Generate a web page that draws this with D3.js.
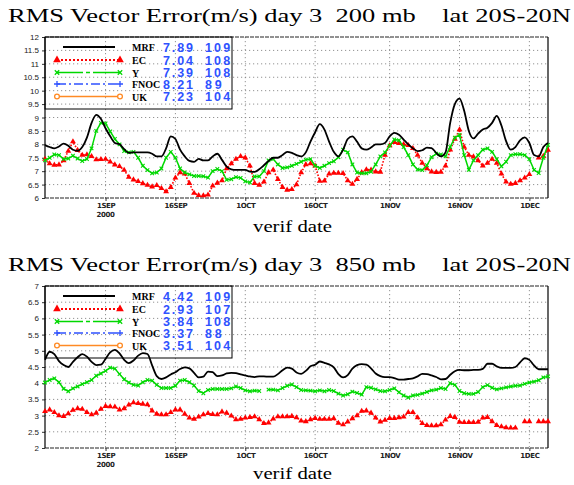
<!DOCTYPE html>
<html>
<head>
<meta charset="utf-8">
<script src="https://cdn.jsdelivr.net/npm/d3@7/dist/d3.min.js"></script>
<style>
  body { margin: 0; background: #fff; }
  svg { display: block; }
</style>
</head>
<body>
<svg id="chart" width="574" height="485"></svg>
<script>
// ---- data -------------------------------------------------------------
// daily verification dates: 19 Aug 2000 .. 5 Dec 2000 (109 days)
const startDate = new Date(2000, 7, 19);
const endDate = new Date(2000, 11, 5);

const tickDates = [
  new Date(2000, 8, 1), new Date(2000, 8, 16), new Date(2000, 9, 1),
  new Date(2000, 9, 16), new Date(2000, 10, 1), new Date(2000, 10, 16),
  new Date(2000, 11, 1)
];
const tickLabels = ["1SEP", "16SEP", "1OCT", "16OCT", "1NOV", "16NOV", "1DEC"];

const models = ["MRF", "EC", "Y", "FNOC", "UK"];

// 200 mb panel
const title200 = "RMS Vector Error(m/s) day 3  200 mb    lat 20S-20N";
const yTicks200 = [6, 6.5, 7, 7.5, 8, 8.5, 9, 9.5, 10, 10.5, 11, 11.5, 12];
const yLabels200 = ["6", "6.5", "7", "7.5", "8", "8.5", "9", "9.5", "10", "10.5", "11", "11.5", "12"];
const means200 = ["7.89", "7.04", "7.39", "8.21", "7.23"];
const counts200 = ["109", "108", "108", "89", "104"];

const mrf200 = [
  7.97, 7.9, 7.85, 7.92, 8.03, 7.95, 7.8, 7.76, 7.9, 8.25,
  8.8, 9.1, 8.95, 8.6, 8.3, 8.05, 8.0, 7.82, 7.68, 7.7,
  7.7, 7.7, 7.7, 7.65, 7.55, 7.55, 7.85, 8.3, 8.2, 7.8,
  7.55, 7.38, 7.35, 7.46, 7.4, 7.4, 7.55, 7.65, 7.42, 7.17,
  7.07, 7.05, 7.05, 7.05, 6.98, 6.97, 7.07, 7.22, 7.38, 7.5,
  7.5, 7.6, 7.72, 7.68, 7.6, 7.55, 7.7, 8.1, 8.45, 8.75,
  8.55, 8.1, 7.72, 7.55, 7.8, 8.2, 8.3, 8.1, 7.85, 7.8,
  7.88, 8.0, 8.0, 8.05, 8.3, 8.43, 8.36, 8.18, 8.0, 7.85,
  7.75, 7.78, 7.88, 7.86, 7.68, 7.55, 7.7, 8.8, 9.5, 9.7,
  9.25, 8.5, 8.22, 8.4, 8.55, 8.62, 8.8, 9.06, 8.7, 8.12,
  7.8, 7.9, 8.15, 8.26, 8.05, 7.6, 7.55, 7.9, 8.05
];
const ec200 = [
  7.45, 7.28, 7.23, 7.24, 7.4, 7.75, 8.1, 7.78, 7.6, 7.62,
  7.55, 7.43, 7.44, 7.45, 7.35, 7.24, 7.18, 7.04, 6.78, 6.68,
  6.62, 6.54, 6.48, 6.42, 6.47, 6.36, 6.24, 6.4, 6.75, 6.95,
  6.9, 6.55, 6.18, 6.1, 6.09, 6.12, 6.45, 6.56, 6.65, 7.1,
  7.28, 7.45, 7.55, 7.5, 7.2, 6.55, 6.48, 6.6, 6.95, 7.05,
  6.7, 6.4, 6.3, 6.32, 6.5, 6.95, 7.25, 7.28, 7.2, 6.63,
  6.64, 6.9, 6.93, 6.93, 6.92, 6.65, 6.52, 6.7, 6.95, 7.06,
  7.05, 6.98, 6.97, 7.6, 7.95, 8.08, 8.04, 8.0, 7.96, 7.85,
  7.6, 7.3, 7.1, 6.98, 6.96, 6.97, 7.2, 7.8, 8.2, 8.55,
  7.9, 7.6, 7.54, 7.4, 7.2, 7.3, 7.45, 7.3, 6.9, 6.6,
  6.52, 6.55, 6.65, 6.75, 6.88, null, 7.5, 7.56, 7.79
];
const y200 = [
  7.4, 7.5, 7.62, 7.6, 7.45, 7.47, 7.58, 7.47, 7.38, 7.45,
  7.85, 8.5, 8.8, 8.78, 8.48, 8.2, 8.0, 7.75, 7.7, 7.72,
  7.5, 7.2, 7.04, 6.92, 6.95, 7.1, 7.5, 7.72, 7.5, 7.1,
  6.95, 6.88, 6.82, 6.82, 6.81, 6.76, 7.0, 7.08, 7.0, 6.68,
  6.7, 6.78, 6.75, 6.62, 6.58, 6.8, 6.8, 7.0, 7.4, 7.45,
  7.25, 7.12, 7.14, 7.2, 7.27, 7.35, 7.43, 7.45, 7.2, 7.12,
  7.2, 7.3, 7.37, 7.52, 7.8, 7.7, 7.25, 6.95, 6.92, 6.92,
  6.98, 7.25, 7.55, 7.7, 7.95, 8.18, 8.15, 7.9, 7.6, 7.25,
  7.06, 7.04, 7.22, 7.52, 7.65, 7.62, 7.55, 7.9, 8.25, 8.35,
  7.6, 7.05, 7.4, 7.6, 7.8, 7.85, 7.72, 7.45, 7.18, 7.35,
  7.6, 7.63, 7.63, 7.6, 7.45, 7.05, 6.93, 7.5, 7.98
];

// 850 mb panel
const title850 = "RMS Vector Error(m/s) day 3  850 mb    lat 20S-20N";
const yTicks850 = [2, 2.5, 3, 3.5, 4, 4.5, 5, 5.5, 6, 6.5, 7];
const yLabels850 = ["2", "2.5", "3", "3.5", "4", "4.5", "5", "5.5", "6", "6.5", "7"];
const means850 = ["4.42", "2.93", "3.84", "3.37", "3.51"];
const counts850 = ["109", "107", "108", "88", "104"];

const mrf850 = [
  4.72, 4.97, 4.9, 4.68, 4.56, 4.5, 4.66, 4.8, 4.9, 4.82,
  4.66, 4.56, 4.57, 4.75, 4.95, 5.03, 4.92, 4.72, 4.62, 4.7,
  4.85, 4.93, 4.9, 4.55, 4.22, 4.13, 4.18, 4.27, 4.34, 4.44,
  4.49, 4.46, 4.32, 4.18, 4.2, 4.36, 4.34, 4.22, 4.24, 4.3,
  4.32, 4.31, 4.27, 4.24, 4.21, 4.19, 4.21, 4.21, 4.2, 4.2,
  4.28, 4.4, 4.48, 4.45, 4.33, 4.29, 4.38, 4.52, 4.57, 4.67,
  4.63, 4.58, 4.49, 4.28, 4.18, 4.25, 4.45, 4.56, 4.59, 4.57,
  4.46, 4.3, 4.22, 4.19, 4.19, 4.16, 4.11, 4.11, 4.13, 4.15,
  4.21, 4.29, 4.28, 4.24, 4.19, 4.12, 4.13, 4.26, 4.37, 4.41,
  4.4, 4.4, 4.41, 4.41, 4.44, 4.6, 4.6, 4.52, 4.47, 4.47,
  4.47, 4.5, 4.64, 4.77, 4.72, 4.55, 4.43, 4.43, 4.43
];
const ec850 = [
  3.13, 3.18, 3.1, 3.0, 2.98, 3.06, 3.17, 3.22, 3.2, 3.1,
  3.03, 3.08, 3.2, 3.29, 3.28, 3.27, 3.18, 3.22, 3.33, 3.4,
  3.38, 3.36, 3.34, 3.15, 3.05, 3.03, 3.03, 3.1, 3.18, 3.18,
  3.05, 2.93, 2.89, 2.96, 3.03, 3.07, 3.04, 3.03, 3.12, 3.08,
  2.99, 2.88, 2.89, 2.93, 2.95, 2.97, 2.88, 2.76, 2.78, 2.9,
  2.97, 2.97, 2.97, 2.98, 2.94, 2.84, 2.82, 2.88, 2.92, 2.89,
  2.89, 2.89, 2.91, 2.77, 2.72, 2.81, 2.91, 3.0, 3.14, 3.15,
  3.08, 2.93, 2.81, 2.86, 2.92, 2.92, 2.94, 2.96, 3.1, 3.1,
  2.94, 2.76, 2.7, 2.69, 2.69, 2.72, 2.87, 2.98, 2.95, 2.8,
  2.79, 2.79, 2.79, 2.8, 2.93, 2.95, 2.82, 2.7, 2.66, 2.63,
  2.62, 2.62, null, 2.82, 2.82, null, 2.82, 2.82, 2.82
];
const y850 = [
  4.02, 4.1, 4.15, 4.03, 3.83, 3.75, 3.84, 3.9, 3.97, 4.03,
  4.1, 4.23, 4.3, 4.38, 4.48, 4.45, 4.28, 4.12, 4.02, 3.95,
  3.93, 4.03, 4.1, 4.08, 3.95, 3.85, 3.85, 3.85, 3.92, 4.08,
  4.1, 4.03, 3.93, 3.76, 3.69, 3.79, 3.82, 3.82, 3.82, 3.82,
  3.84, 3.9, 3.85, 3.78, 3.75, 3.77, 3.76, null, 3.8, 3.8,
  3.78, 3.85, 3.92, 3.96, 3.88, 3.79, 3.78, 3.77, 3.75, 3.78,
  3.75, 3.79, 3.76, 3.68, 3.62, 3.66, 3.74, 3.7, 3.65, 3.88,
  3.86, 3.81, 3.76, 3.75, 3.79, 3.84, 3.72, 3.62, 3.56, 3.62,
  3.64, 3.68, 3.73, 3.78, 3.8, 3.85, 3.82, 4.0, 3.95, 3.76,
  3.69, 3.67, 3.67, 3.73, 3.88, 3.94, 3.86, 3.81, 3.84, 3.87,
  3.9, 3.92, 3.93, 3.98, 4.02, 4.05, 4.09, 4.18, 4.21
];

// ---- drawing ----------------------------------------------------------
const svg = d3.select("#chart");
const plotLeft = 45, plotRight = 548;
const BLACK = "#000", RED = "#ff0000", GREEN = "#00d800", BLUE = "#2f52ff", ORANGE = "#ff8a24";

const x = d3.scaleTime().domain([startDate, endDate]).range([plotLeft, plotRight]);
const dayOf = i => d3.timeDay.offset(startDate, i);

function drawPanel(cfg) {
  const g = svg.append("g");
  const y = d3.scaleLinear().domain(cfg.domain).range([cfg.bottom, cfg.top]);

  // title (keeps its runs of spaces)
  g.append("text")
    .attr("x", 8).attr("y", cfg.top - 15)
    .attr("xml:space", "preserve").style("white-space", "pre")
    .attr("textLength", 563).attr("lengthAdjust", "spacingAndGlyphs")
    .style("font-family", "'Liberation Serif', 'DejaVu Serif', serif")
    .style("font-size", "18px").attr("fill", "#000")
    .text(cfg.title);

  // dotted grid
  g.append("g").selectAll("line").data(cfg.yTicks.slice(1, -1)).join("line")
    .attr("x1", plotLeft).attr("x2", plotRight)
    .attr("y1", d => y(d)).attr("y2", d => y(d))
    .attr("stroke", "#777").attr("stroke-width", 0.8).attr("stroke-dasharray", "1.2,2.8");
  g.append("g").selectAll("line").data(tickDates).join("line")
    .attr("x1", d => x(d)).attr("x2", d => x(d))
    .attr("y1", cfg.top).attr("y2", cfg.bottom)
    .attr("stroke", "#777").attr("stroke-width", 0.8).attr("stroke-dasharray", "1.2,2.8");

  // y axis
  const yAxis = d3.axisLeft(y).tickValues(cfg.yTicks)
    .tickFormat((d, i) => cfg.yLabels[i]).tickSize(3).tickPadding(3);
  const ya = g.append("g").attr("transform", `translate(${plotLeft},0)`).call(yAxis);
  ya.select(".domain").remove();
  ya.selectAll("line").attr("stroke", "#333");
  ya.selectAll("text")
    .style("font-family", "'Liberation Sans', Arial, sans-serif")
    .style("font-size", "8px").attr("fill", "#222");

  // x axis
  const xAxis = d3.axisBottom(x).tickValues(tickDates)
    .tickFormat((d, i) => tickLabels[i]).tickSize(3).tickPadding(2);
  const xa = g.append("g").attr("transform", `translate(0,${cfg.bottom})`).call(xAxis);
  xa.select(".domain").remove();
  xa.selectAll("line").attr("stroke", "#333");
  xa.selectAll("text")
    .style("font-family", "'DejaVu Sans', sans-serif").style("font-weight", "bold")
    .style("font-size", "7px").style("letter-spacing", "-0.4px").attr("fill", "#222");
  // year under the first tick
  g.append("text")
    .attr("x", x(tickDates[0])).attr("y", cfg.bottom + 19)
    .attr("text-anchor", "middle")
    .style("font-family", "'DejaVu Sans', sans-serif").style("font-weight", "bold")
    .style("font-size", "7px").style("letter-spacing", "-0.4px").attr("fill", "#222")
    .text("2000");

  // axis title
  g.append("text")
    .attr("x", 253).attr("y", cfg.bottom + cfg.xTitleDy)
    .attr("textLength", 79).attr("lengthAdjust", "spacingAndGlyphs")
    .style("font-family", "'Liberation Serif', 'DejaVu Serif', serif")
    .style("font-size", "16px").attr("fill", "#000")
    .text("verif date");

  // frame
  g.append("line").attr("x1", plotLeft).attr("x2", plotRight).attr("y1", cfg.top).attr("y2", cfg.top)
    .attr("stroke", "#222").attr("stroke-width", 1).attr("stroke-dasharray", "4,1");
  g.append("line").attr("x1", plotLeft).attr("x2", plotRight).attr("y1", cfg.bottom).attr("y2", cfg.bottom)
    .attr("stroke", "#222").attr("stroke-width", 1).attr("stroke-dasharray", "4,1");
  g.append("line").attr("x1", plotLeft).attr("x2", plotLeft).attr("y1", cfg.top).attr("y2", cfg.bottom)
    .attr("stroke", "#000").attr("stroke-width", 1.2);
  g.append("line").attr("x1", plotRight).attr("x2", plotRight).attr("y1", cfg.top).attr("y2", cfg.bottom)
    .attr("stroke", "#000").attr("stroke-width", 1.2);

  // legend
  const lg = g.append("g");
  lg.append("rect").attr("x", plotLeft).attr("y", cfg.top)
    .attr("width", 187).attr("height", 72)
    .attr("fill", "none").attr("stroke", "#000").attr("stroke-width", 1);
  const rowY = [10, 23, 35.5, 47, 59.5].map(d => cfg.top + d);
  const lx0 = 57, lx1 = 120;
  // MRF sample
  lg.append("line").attr("x1", 63).attr("x2", 115).attr("y1", rowY[0]).attr("y2", rowY[0])
    .attr("stroke", BLACK).attr("stroke-width", 2);
  // EC sample
  lg.append("line").attr("x1", lx0).attr("x2", lx1).attr("y1", rowY[1]).attr("y2", rowY[1])
    .attr("stroke", RED).attr("stroke-width", 1.8).attr("stroke-dasharray", "2,2");
  lg.selectAll(".ecm").data([lx0, lx1]).join("path")
    .attr("transform", d => `translate(${d},${rowY[1]})`)
    .attr("d", d3.symbol(d3.symbolTriangle, 26)()).attr("fill", RED);
  // Y sample
  lg.append("line").attr("x1", lx0).attr("x2", lx1).attr("y1", rowY[2]).attr("y2", rowY[2])
    .attr("stroke", GREEN).attr("stroke-width", 1.5).attr("stroke-dasharray", "26,3,4,3");
  lg.selectAll(".ym").data([lx0, lx1]).join("path")
    .attr("transform", d => `translate(${d},${rowY[2]})`)
    .attr("d", "M-2.2,-2.2L2.2,2.2M-2.2,2.2L2.2,-2.2")
    .attr("stroke", GREEN).attr("stroke-width", 1.3).attr("fill", "none");
  // FNOC sample
  lg.append("line").attr("x1", lx0).attr("x2", lx1).attr("y1", rowY[3]).attr("y2", rowY[3])
    .attr("stroke", BLUE).attr("stroke-width", 1.3).attr("stroke-dasharray", "9,3,2,3");
  lg.selectAll(".fm").data([lx0, lx1]).join("path")
    .attr("transform", d => `translate(${d},${rowY[3]})`)
    .attr("d", "M-3,0L3,0M0,-3L0,3")
    .attr("stroke", BLUE).attr("stroke-width", 1.3).attr("fill", "none");
  // UK sample
  lg.append("line").attr("x1", lx0 + 2.5).attr("x2", lx1 - 2.5).attr("y1", rowY[4]).attr("y2", rowY[4])
    .attr("stroke", ORANGE).attr("stroke-width", 1.5);
  lg.selectAll(".um").data([lx0, lx1]).join("circle")
    .attr("cx", d => d).attr("cy", rowY[4]).attr("r", 2.4)
    .attr("fill", "#fff").attr("stroke", ORANGE).attr("stroke-width", 1.3);

  // legend text
  lg.selectAll(".name").data(models).join("text")
    .attr("x", 132).attr("y", (d, i) => rowY[i] + 4)
    .style("font-family", "'Liberation Serif', 'DejaVu Serif', serif").style("font-weight", "bold")
    .style("font-size", "10px").attr("fill", "#000")
    .text(d => d);
  lg.selectAll(".mean").data(cfg.means).join("text")
    .attr("x", 163).attr("y", (d, i) => rowY[i] + 4.5)
    .attr("textLength", 30).attr("lengthAdjust", "spacing")
    .style("font-family", "'Liberation Sans', Arial, sans-serif").style("font-weight", "bold")
    .style("font-size", "12.5px").attr("fill", BLUE)
    .text(d => d);
  lg.selectAll(".count").data(cfg.counts).join("text")
    .attr("x", 205).attr("y", (d, i) => rowY[i] + 4.5)
    .attr("textLength", d => d.length * 8.4).attr("lengthAdjust", "spacing")
    .style("font-family", "'Liberation Sans', Arial, sans-serif").style("font-weight", "bold")
    .style("font-size", "12.5px").attr("fill", BLUE)
    .text(d => d);

  // series
  const line = d3.line().defined(d => d != null)
    .x((d, i) => x(dayOf(i))).y(d => y(d));
  const pts = arr => arr.map((v, i) => ({ v, i })).filter(p => p.v != null);

  // EC: dotted red with filled triangles
  g.append("path").datum(cfg.ec).attr("d", line)
    .attr("fill", "none").attr("stroke", RED).attr("stroke-width", 1.6).attr("stroke-dasharray", "1.6,1.6");
  g.append("g").selectAll("path").data(pts(cfg.ec)).join("path")
    .attr("transform", p => `translate(${x(dayOf(p.i))},${y(p.v)})`)
    .attr("d", d3.symbol(d3.symbolTriangle, 15)()).attr("fill", RED);

  // Y: green with x marks
  g.append("path").datum(cfg.yy).attr("d", line)
    .attr("fill", "none").attr("stroke", GREEN).attr("stroke-width", 1.5);
  g.append("g").selectAll("path").data(pts(cfg.yy)).join("path")
    .attr("transform", p => `translate(${x(dayOf(p.i))},${y(p.v)})`)
    .attr("d", "M-1.8,-1.8L1.8,1.8M-1.8,1.8L1.8,-1.8")
    .attr("stroke", GREEN).attr("stroke-width", 1.1).attr("fill", "none");

  // MRF: solid black
  g.append("path").datum(cfg.mrf).attr("d", line.curve(d3.curveMonotoneX))
    .attr("fill", "none").attr("stroke", BLACK).attr("stroke-width", 1.8)
    .attr("stroke-linejoin", "round");
}

drawPanel({
  title: title200, top: 37, bottom: 198, domain: [6, 12], xTitleDy: 34,
  yTicks: yTicks200, yLabels: yLabels200,
  means: means200, counts: counts200,
  mrf: mrf200, ec: ec200, yy: y200
});
drawPanel({
  title: title850, top: 286, bottom: 448, domain: [2, 7], xTitleDy: 31,
  yTicks: yTicks850, yLabels: yLabels850,
  means: means850, counts: counts850,
  mrf: mrf850, ec: ec850, yy: y850
});
</script>
</body>
</html>
